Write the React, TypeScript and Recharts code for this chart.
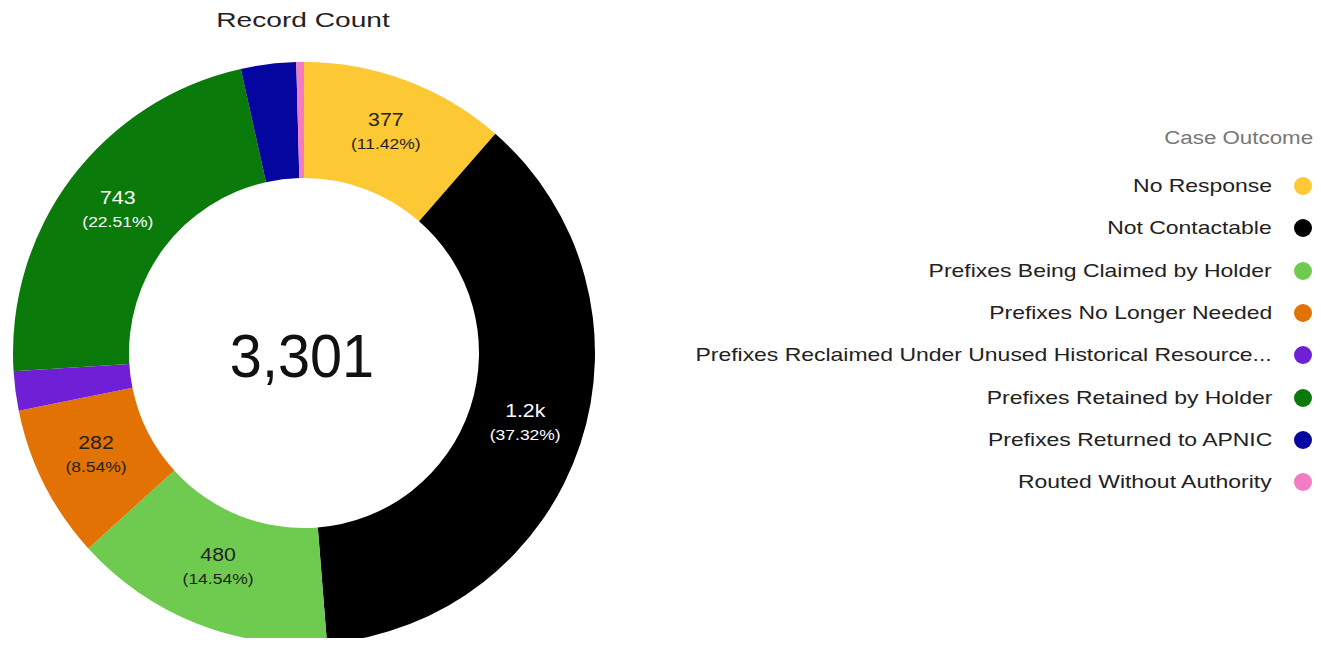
import { PieChart, Pie, Cell } from 'recharts'

const outcomes = [
  'No Response',
  'Not Contactable',
  'Prefixes Being Claimed by Holder',
  'Prefixes No Longer Needed',
  'Prefixes Reclaimed Under Unused Historical Resource...',
  'Prefixes Retained by Holder',
  'Prefixes Returned to APNIC',
  'Routed Without Authority',
]
const counts = [377, 1232, 480, 282, 72, 743, 101, 14]
const colors = ['#fcc934', '#000000', '#6fcb50', '#e27203', '#6f20d6', '#0a7a0a', '#0505a0', '#f27bc4']
const darkText = [true, false, true, true, false, false, false, false]

const data = outcomes.map((name, i) => ({ name, value: counts[i] }))
const total = counts.reduce((a, b) => a + b, 0)

const FONT = '"Liberation Sans", Arial, sans-serif'
const RAD = Math.PI / 180
// the source text renders a bit wider than Arial
const WIDE = 1.24

function fmt(v: number) {
  return v >= 1000 ? `${(v / 1000).toFixed(1)}k` : String(v)
}

function renderLabel(props: any) {
  const { cx, cy, midAngle, innerRadius, outerRadius, percent, value, index } = props
  if (percent < 0.05) return null
  const r = (innerRadius + outerRadius) / 2
  const x = cx + r * Math.cos(-midAngle * RAD)
  const y = cy + r * Math.sin(-midAngle * RAD)
  const fill = darkText[index] ? '#222' : '#fff'
  return (
    <g>
      <text transform={`translate(${x},${y - 9}) scale(1.12,1)`} textAnchor="middle" fill={fill} fontSize={19} fontFamily={FONT}>
        {fmt(value)}
      </text>
      <text transform={`translate(${x},${y + 14}) scale(1.25,1)`} textAnchor="middle" fill={fill} fontSize={14} fontFamily={FONT}>
        ({(percent * 100).toFixed(2)}%)
      </text>
    </g>
  )
}

const wideSpan = (origin: string): React.CSSProperties => ({
  display: 'inline-block',
  transform: `scaleX(${WIDE})`,
  transformOrigin: origin,
  whiteSpace: 'nowrap',
})

function LegendBox() {
  return (
    <div style={{ position: 'absolute', right: 8, top: 120, fontFamily: FONT, textAlign: 'right' }}>
      <div style={{ color: '#777', fontSize: 18, height: 45, lineHeight: '36px' }}>
        <span style={wideSpan('right center')}>Case Outcome</span>
      </div>
      {outcomes.map((name, i) => (
        <div key={name} style={{ display: 'flex', justifyContent: 'flex-end', alignItems: 'center', height: 42.3 }}>
          <span style={{ ...wideSpan('right center'), fontSize: 18.5, color: '#222', marginRight: 22 }}>{name}</span>
          <span style={{ width: 18, height: 18, borderRadius: 9, background: colors[i], display: 'inline-block', marginRight: 1 }} />
        </div>
      ))}
    </div>
  )
}

export default function App() {
  return (
    <div style={{ margin: -8, width: 1321, height: 646, position: 'relative', background: '#fff', overflow: 'hidden' }}>
      <PieChart width={1321} height={646} margin={{ top: 0, right: 0, bottom: 0, left: 0 }}>
        <text transform="translate(303,27) scale(1.34,1)" textAnchor="middle" fontSize={21} fontFamily={FONT} fill="#222">
          Record Count
        </text>
        <Pie
          data={data}
          dataKey="value"
          nameKey="name"
          cx={304}
          cy={353}
          innerRadius={175}
          outerRadius={291}
          startAngle={90}
          endAngle={-270}
          stroke="none"
          label={renderLabel}
          labelLine={false}
          isAnimationActive={false}
        >
          {data.map((d, i) => (
            <Cell key={d.name} fill={colors[i]} />
          ))}
        </Pie>
        <text transform="translate(302,356) scale(0.93,1)" textAnchor="middle" dominantBaseline="central" fontSize={62} fontFamily={FONT} fill="#111">
          {total.toLocaleString('en-US')}
        </text>
      </PieChart>
      <LegendBox />
    </div>
  )
}
